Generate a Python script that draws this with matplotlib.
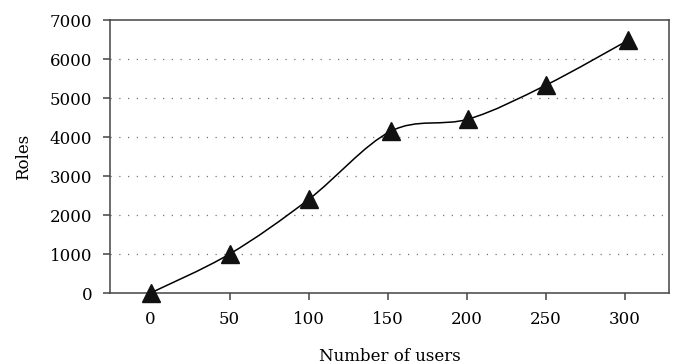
"""Roles versus number of users, smoothed line with triangle markers."""

import matplotlib

matplotlib.use("Agg")
import matplotlib.pyplot as plt
from matplotlib.path import Path
from matplotlib.patches import PathPatch

users = [0, 50, 100, 152, 201, 250, 302]
roles = [0, 1000, 2400, 4150, 4460, 5330, 6480]
x_ticks = [0, 50, 100, 150, 200, 250, 300]
y_ticks = [0, 1000, 2000, 3000, 4000, 5000, 6000, 7000]


def smooth_path(xs, ys):
    """Catmull-Rom style Bezier path through the points (like Excel smoothing)."""
    pts = list(zip(xs, ys))
    verts = [pts[0]]
    codes = [Path.MOVETO]
    n = len(pts)
    for i in range(n - 1):
        p_prev = pts[max(i - 1, 0)]
        p0 = pts[i]
        p1 = pts[i + 1]
        p_next = pts[min(i + 2, n - 1)]
        c1 = (p0[0] + (p1[0] - p_prev[0]) / 6, p0[1] + (p1[1] - p_prev[1]) / 6)
        c2 = (p1[0] - (p_next[0] - p0[0]) / 6, p1[1] - (p_next[1] - p0[1]) / 6)
        verts += [c1, c2, p1]
        codes += [Path.CURVE4] * 3
    return Path(verts, codes)


plt.rcParams["font.family"] = ["DejaVu Serif"]
plt.rcParams["font.size"] = 12

fig = plt.figure(figsize=(6.76, 3.64), dpi=100)
ax = fig.add_axes([0.163, 0.195, 0.827, 0.75])

ax.add_patch(
    PathPatch(smooth_path(users, roles), facecolor="none", edgecolor="black", lw=1.1, zorder=3)
)
ax.plot(
    users, roles, linestyle="none", marker="^", markersize=13,
    color="#111111", zorder=4, clip_on=False,
)

ax.set_xlim(-25.5, 328)
ax.set_ylim(0, 7000)
ax.set_xticks(x_ticks)
ax.set_yticks(y_ticks)

for y in y_ticks[1:-1]:
    ax.axhline(y, color="#777777", lw=0.9, linestyle=(0, (1, 6)), zorder=1)

for side in ["top", "right", "left", "bottom"]:
    ax.spines[side].set_color("#444444")
    ax.spines[side].set_linewidth(1.1)
ax.tick_params(axis="both", direction="out", length=5, width=1.1, color="#444444", labelsize=12)
ax.tick_params(axis="x", pad=8)
ax.tick_params(axis="y", pad=8)

ax.set_xlabel("Number of users", fontsize=12, labelpad=14)
ax.set_ylabel("Roles", fontsize=12, labelpad=13)

fig.savefig("out.png", dpi=100)
